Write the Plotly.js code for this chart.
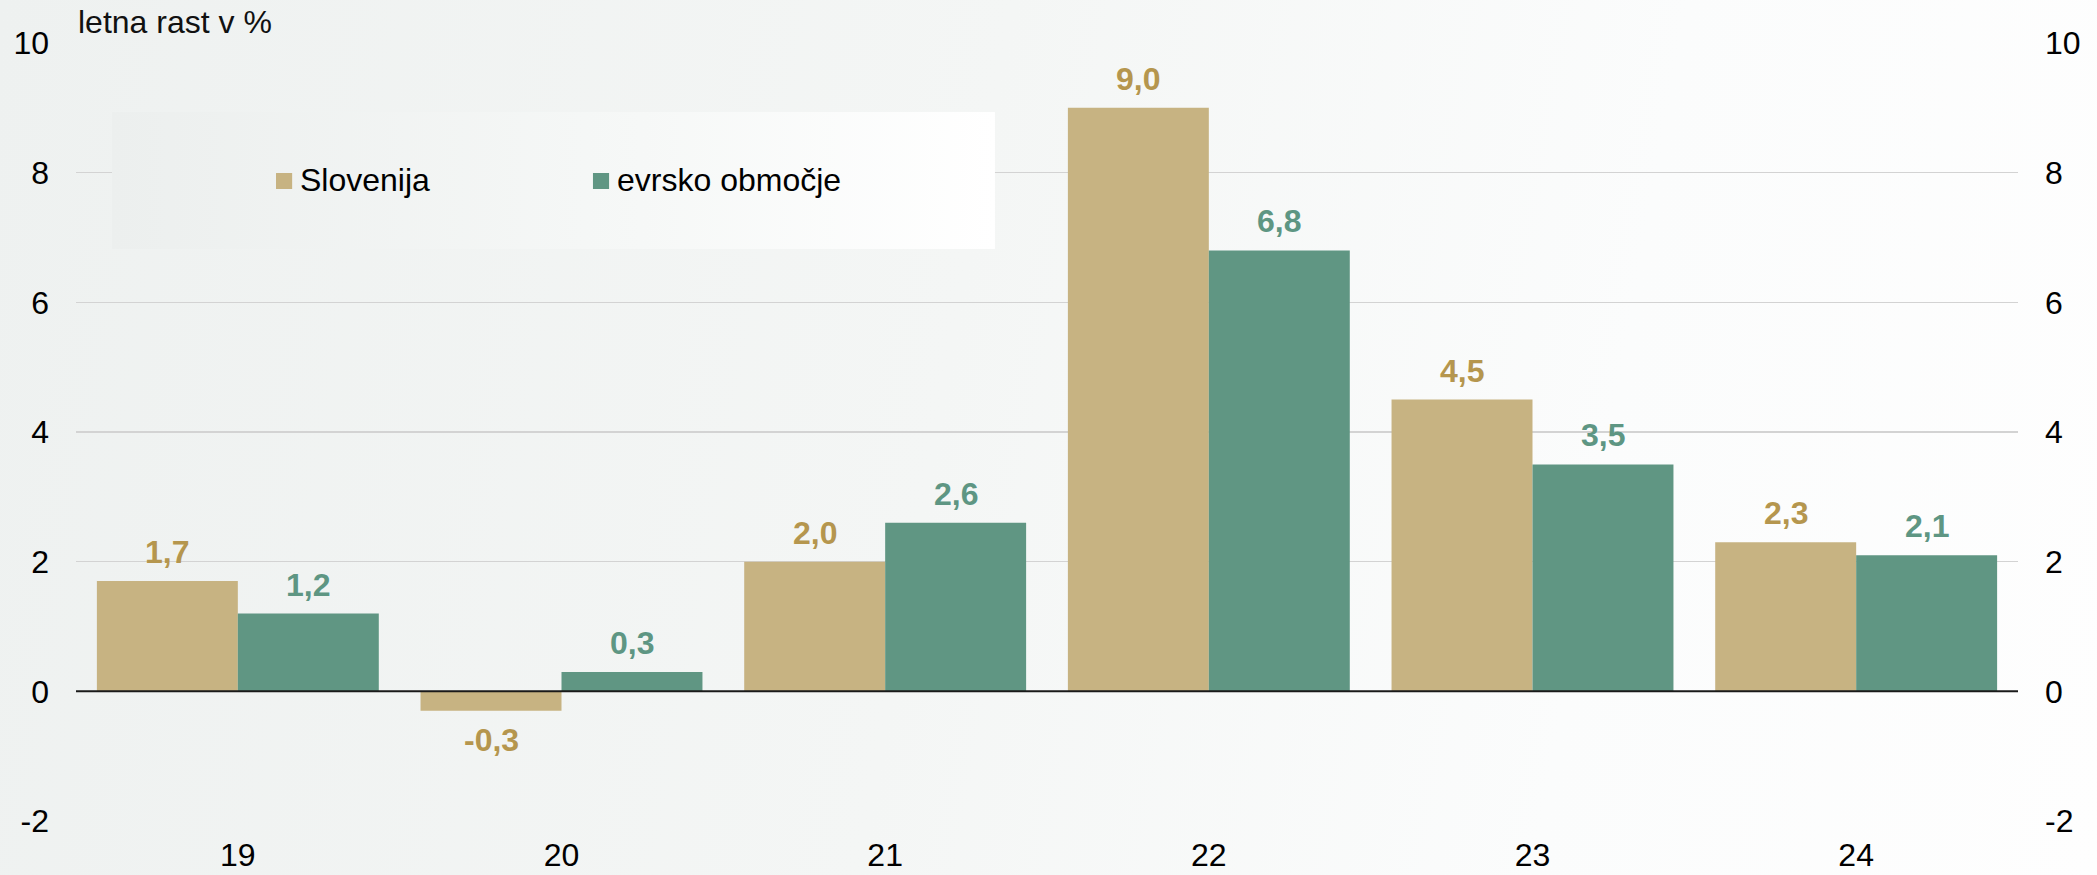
<!DOCTYPE html>
<html>
<head>
<meta charset="utf-8">
<script src="https://cdn.plot.ly/plotly-3.0.1.min.js"></script>
<style>
  html, body { margin: 0; padding: 0; }
  #chart {
    width: 2097px; height: 875px;
    background: linear-gradient(100deg, #EEF1F0 0%, #F4F6F5 45%, #FBFCFC 75%, #FEFEFE 100%);
  }
</style>
</head>
<body>
<div id="chart"></div>
<script>
const categories = ["19", "20", "21", "22", "23", "24"];
const slovenija = [1.7, -0.3, 2.0, 9.0, 4.5, 2.3];
const evrskoObmocje = [1.2, 0.3, 2.6, 6.8, 3.5, 2.1];
const seriesNames = ["Slovenija", "evrsko območje"];
const yTicks = [-2, 0, 2, 4, 6, 8, 10];
const yTitle = "letna rast v %";

const barColors = ["#C7B382", "#609683"];
const labelColors = ["#B5964E", "#5E9683"];
const FONT = "'Liberation Sans', Arial, Helvetica, sans-serif";

const series = [slovenija, evrskoObmocje];
const traces = series.map((vals, i) => ({
  type: "bar",
  name: seriesNames[i],
  x: categories,
  y: vals,
  marker: { color: barColors[i], line: { width: 0 } },
  hoverinfo: "skip",
  showlegend: false
}));
// invisible trace on the right axis so it is drawn
traces.push({ type: "scatter", x: categories, y: slovenija, yaxis: "y2",
  mode: "none", showlegend: false, hoverinfo: "skip" });

const fmt = v => v.toFixed(1).replace(".", ",");
const annotations = [];
series.forEach((vals, i) => {
  vals.forEach((v, j) => {
    annotations.push({
      x: j, y: v, xref: "x", yref: "y",
      text: fmt(v), showarrow: false,
      xshift: i === 0 ? -70.5 : 70.5,
      yanchor: v >= 0 ? "bottom" : "top",
      yshift: v >= 0 ? 9 : -9,
      font: { family: FONT, size: 32, color: labelColors[i], weight: "bold" }
    });
  });
});
annotations.push({
  xref: "paper", yref: "paper", x: 0, y: 1, xanchor: "left", yanchor: "bottom",
  yshift: 1, text: yTitle, showarrow: false,
  font: { family: FONT, size: 32, color: "#111" }
});

// manual legend (paper coordinates)
const legendX = [0.1030, 0.2662];
const legendSq = 0.0083;
const shapes = [];
seriesNames.forEach((name, i) => {
  shapes.push({
    type: "rect", xref: "paper", yref: "paper", layer: "above",
    x0: legendX[i], x1: legendX[i] + legendSq, y0: 0.8123, y1: 0.8329,
    fillcolor: barColors[i], line: { width: 0 }
  });
  annotations.push({
    xref: "paper", yref: "paper", x: legendX[i] + 0.0113, y: 0.8239,
    xanchor: "left", yanchor: "middle", showarrow: false, text: name,
    font: { family: FONT, size: 32, color: "#000" }
  });
});
// zero baseline drawn over the bars
shapes.push({
  type: "line", xref: "paper", yref: "y", x0: 0, x1: 1, y0: 0, y1: 0,
  layer: "above", line: { color: "#1A1A1A", width: 2 }
});

const boxSvg = '<svg xmlns="http://www.w3.org/2000/svg" width="100" height="100" preserveAspectRatio="none">' +
  '<defs><linearGradient id="g" x1="0" y1="0" x2="1" y2="0">' +
  '<stop offset="0" stop-color="#ECEFEE"/><stop offset="0.6" stop-color="#F6F8F7"/><stop offset="1" stop-color="#FFFFFF"/>' +
  '</linearGradient></defs><rect width="100" height="100" fill="url(#g)"/></svg>';

const layout = {
  width: 2097, height: 875,
  margin: { l: 76, r: 79, t: 43, b: 54, pad: 0 },
  paper_bgcolor: "rgba(0,0,0,0)",
  plot_bgcolor: "rgba(0,0,0,0)",
  barmode: "group",
  bargap: 0.129,
  bargroupgap: 0,
  font: { family: FONT, size: 32, color: "#000" },
  showlegend: false,
  xaxis: {
    type: "category",
    showgrid: false, zeroline: false, showline: false,
    ticks: "", ticklabelstandoff: 12,
    tickfont: { family: FONT, size: 32, color: "#000" },
    fixedrange: true
  },
  yaxis: {
    range: [-2, 10], tickvals: yTicks, ticktext: yTicks.map(String),
    showgrid: true, gridcolor: "#D3D3D3", gridwidth: 1.5,
    zeroline: false,
    showline: false, ticks: "", ticklabelstandoff: 26,
    tickfont: { family: FONT, size: 32, color: "#000" },
    fixedrange: true
  },
  yaxis2: {
    overlaying: "y", side: "right",
    range: [-2, 10], tickvals: yTicks, ticktext: yTicks.map(String),
    showgrid: false, zeroline: false, showline: false, ticks: "",
    ticklabelstandoff: 26,
    tickfont: { family: FONT, size: 32, color: "#000" },
    fixedrange: true
  },
  images: [{
    source: "data:image/svg+xml;utf8," + encodeURIComponent(boxSvg),
    xref: "paper", yref: "paper",
    x: 0.0185, y: 0.9113, sizex: 0.4547, sizey: 0.1761,
    xanchor: "left", yanchor: "top", sizing: "stretch", layer: "above"
  }],
  shapes: shapes,
  annotations: annotations
};

Plotly.newPlot("chart", traces, layout, { displayModeBar: false, staticPlot: true });
</script>
</body>
</html>
